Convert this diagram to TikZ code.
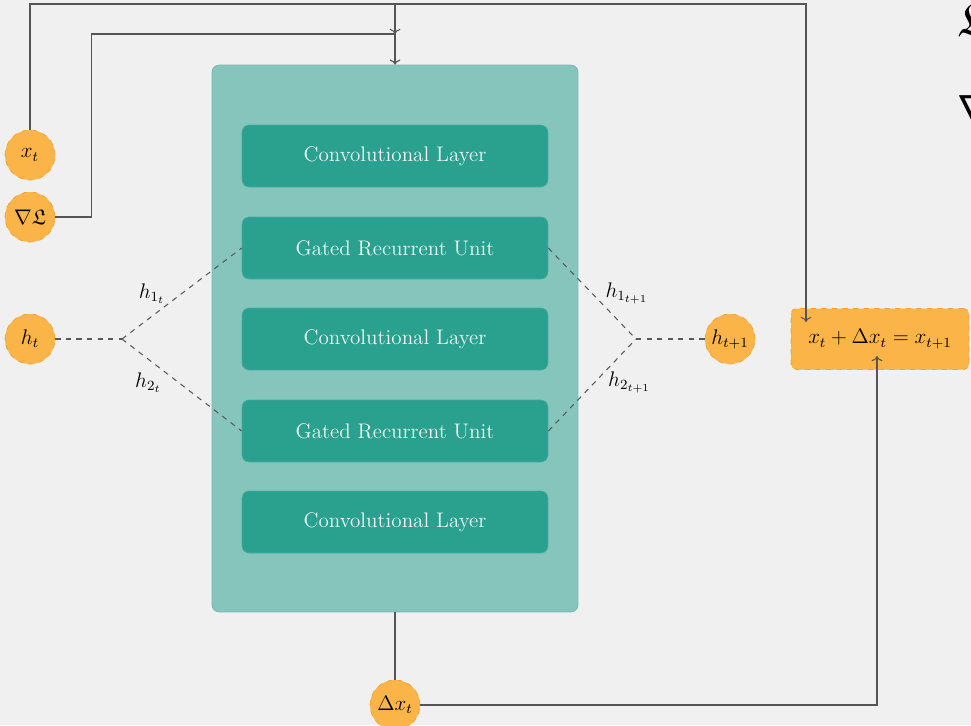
\documentclass[tikz,border=0pt]{standalone}
\usepackage{amsmath,amssymb}
\usetikzlibrary{arrows.meta}
\definecolor{bggray}{HTML}{F0F0F0}
\definecolor{tealbg}{HTML}{86C5BB}
\definecolor{tealbox}{HTML}{2AA08F}
\definecolor{orangefill}{HTML}{FBB448}
\definecolor{orangeline}{HTML}{F3A22C}
\definecolor{wirecol}{HTML}{555555}

\tikzset{
  layerbox/.style={fill=tealbox, draw=tealbox!85!white, rounded corners=4pt,
    minimum width=6.12cm, minimum height=1.24cm, text=white!94!teal},
  state/.style={circle, fill=orangefill, draw=orangeline, dashed,
    minimum size=1cm, inner sep=0pt},
  wire/.style={draw=wirecol, line width=0.6pt},
  hidden/.style={draw=gray!70!black, dashed, line width=0.6pt},
}

\begin{document}
\begin{tikzpicture}[x=0.02cm, y=-0.02cm, >=To, font=\large]
  \fill[bggray] (0,0) rectangle (971,725);
  \useasboundingbox (0,0) rectangle (971,725);

  \node[fill=tealbg, draw=tealbg!85!teal, rounded corners=4pt,
    minimum width=7.32cm, minimum height=10.94cm] (block) at (395,338.5) {};
  \node[layerbox] (conv1) at (395,156) {Convolutional Layer};
  \node[layerbox] (gru1) at (395,248) {Gated Recurrent Unit};
  \node[layerbox] (conv2) at (395,339) {Convolutional Layer};
  \node[layerbox] (gru2) at (395,431) {Gated Recurrent Unit};
  \node[layerbox] (conv3) at (395,522) {Convolutional Layer};

  \node[state] (xt) at (30,155) {$x_t$};
  \node[state] (grad) at (30,217) {$\nabla\mathfrak{L}$};
  \node[state] (ht) at (30,339) {$h_t$};
  \node[state] (htnext) at (730,339) {$h_{t+1}$};
  \node[state] (dxt) at (395,705) {$\Delta x_t$};
  \node[fill=orangefill, draw=orangeline, dashed, rounded corners=3pt,
    minimum width=3.56cm, minimum height=1.22cm] (update) at (880,339)
    {$x_t + \Delta x_t = x_{t+1}$};

  \node[anchor=north west, inner sep=0pt, font=\fontsize{28}{34}\selectfont]
    (lossname) at (957,2) {$\mathfrak{L}$};
  \node[anchor=north west, inner sep=0pt, font=\fontsize{28}{34}\selectfont]
    (gradname) at (957,95) {$\nabla$};

  \coordinate (top) at (395,4);
  \coordinate (merge) at (395,34);
  \coordinate (updatein) at (806,322);
  \coordinate (updateout) at (877,356);
  \coordinate (splitL) at (122,339);
  \coordinate (splitR) at (636,339);

  \draw[wire,->] (xt.north) |- (top) -- (merge);
  \draw[wire,->] (grad.east) -- ++(36,0) |- (merge) -- (block.north);
  \draw[wire,->] (top) -| (updatein);
  \draw[wire] (block.south) -- (dxt.north);
  \draw[wire,->] (dxt.east) -| (updateout);

  \draw[hidden] (ht.east) -- (splitL);
  \draw[hidden] (splitL) -- node[pos=0.5, left=6pt] {$h_{1_t}$} (gru1.west);
  \draw[hidden] (splitL) -- node[pos=0.47, left=6pt] {$h_{2_t}$} (gru2.west);
  \draw[hidden] (gru1.east) -- node[pos=0.5, right=4pt] {$h_{1_{t+1}}$} (splitR);
  \draw[hidden] (gru2.east) -- node[pos=0.53, right=4pt] {$h_{2_{t+1}}$} (splitR);
  \draw[hidden] (splitR) -- (htnext.west);
\end{tikzpicture}
\end{document}
